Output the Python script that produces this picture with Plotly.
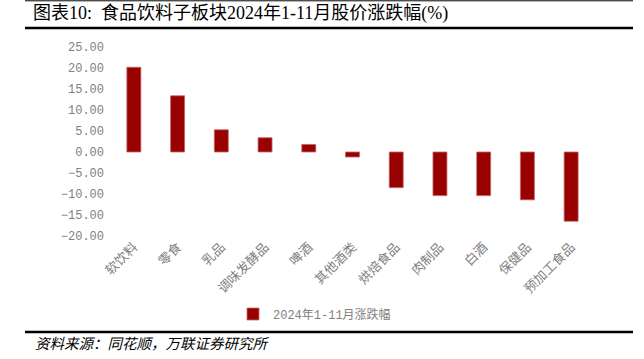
import plotly.graph_objects as go

categories = ["软饮料", "零食", "乳品", "调味发酵品", "啤酒", "其他酒类",
              "烘焙食品", "肉制品", "白酒", "保健品", "预加工食品"]
values = [20.2, 13.4, 5.3, 3.4, 1.8, -1.2, -8.5, -10.4, -10.4, -11.4, -16.5]
series_name = "2024年1-11月涨跌幅"
title_text = "图表10:  食品饮料子板块2024年1-11月股价涨跌幅(%)"
source_text = "资料来源：同花顺，万联证券研究所"

W, H = 644, 359
L, R, T, B = 112, 51, 47, 123
pw, ph = W - L - R, H - T - B

def px(x):
    return (x - L) / pw

def py(y):
    return (H - B - y) / ph

serif = "Liberation Serif, Noto Sans CJK SC, serif"
mono = "Liberation Mono, Noto Sans CJK SC, monospace"
gray = "#808080"

fig = go.Figure()
fig.add_trace(go.Bar(
    x=categories, y=values, name=series_name,
    marker=dict(color="#990000", line=dict(color="#c46a6a", width=0.8)),
    width=0.32, showlegend=True,
))

shapes = [
    dict(type="line", xref="paper", yref="paper", x0=px(25), x1=px(633), y0=py(0.8), y1=py(0.8),
         line=dict(color="black", width=1)),
    dict(type="line", xref="paper", yref="paper", x0=px(25), x1=px(633), y0=py(28), y1=py(28),
         line=dict(color="black", width=2.5)),
    dict(type="line", xref="paper", yref="paper", x0=px(25), x1=px(633), y0=py(332), y1=py(332),
         line=dict(color="black", width=2.5)),
]

annotations = [
    dict(text=title_text, xref="paper", yref="paper", x=px(31), y=py(14),
         xanchor="left", yanchor="middle", showarrow=False,
         font=dict(family=serif, size=18, color="black")),
    dict(text="<i>" + source_text + "</i>", xref="paper", yref="paper", x=px(33), y=py(344),
         xanchor="left", yanchor="middle", showarrow=False,
         font=dict(family=serif, size=14.5, color="black")),
]

fig.update_layout(
    width=W, height=H,
    margin=dict(l=L, r=R, t=T, b=B, autoexpand=False),
    paper_bgcolor="white", plot_bgcolor="white",
    font=dict(family=mono, color=gray, size=12),
    shapes=shapes, annotations=annotations,
    showlegend=True,
    legend=dict(orientation="h", x=px(233), y=py(314), xanchor="left", yanchor="middle",
                font=dict(family=mono, size=12, color=gray),
                itemwidth=30, tracegroupgap=0),
    bargap=0.68,
)
fig.update_xaxes(showgrid=False, zeroline=False, showline=False, ticks="", automargin=False,
                 tickangle=-45, tickfont=dict(family=serif, size=13, color=gray))
fig.update_yaxes(range=[-20.02, 25.02], tickvals=[-20, -15, -10, -5, 0, 5, 10, 15, 20, 25],
                 tickformat=".2f", showgrid=False, automargin=False,
                 zeroline=False, showline=False, ticks="", ticklabelstandoff=7,
                 tickfont=dict(family=mono, size=12, color=gray))

fig.write_html("out.html", config={"displayModeBar": False},
               post_script="document.body.style.margin='0';")
